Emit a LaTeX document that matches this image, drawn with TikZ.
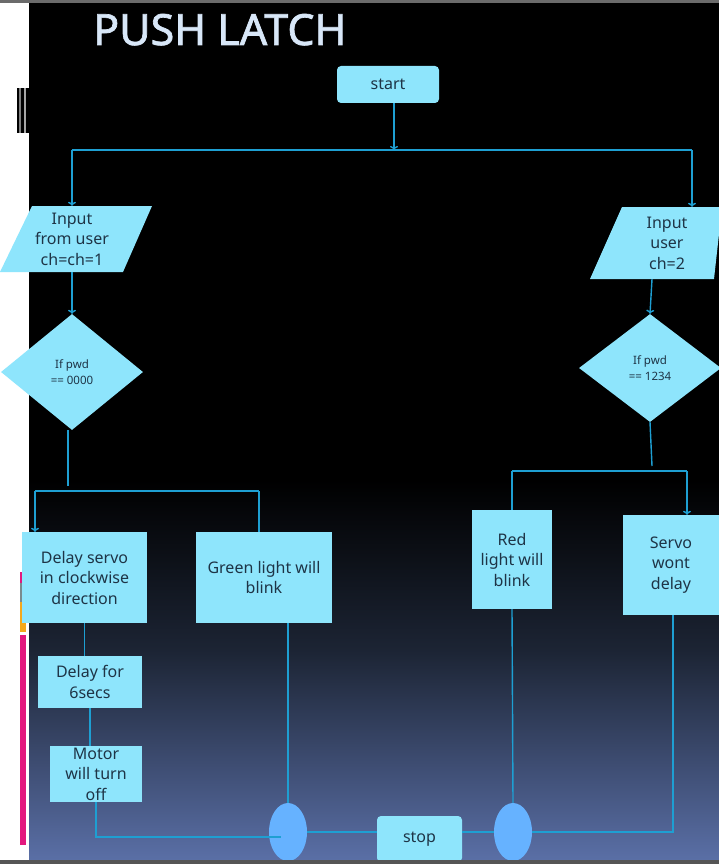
\documentclass[tikz,border=0pt]{standalone}
\usepackage{fontspec}
\setmainfont{Noto Sans}
\newfontfamily\titlefont[FakeBold=1.6]{Noto Sans}
\usetikzlibrary{arrows.meta,shapes.geometric}
\definecolor{boxc}{HTML}{8EE5FC}
\definecolor{ellc}{HTML}{66B2FF}
\definecolor{linec}{HTML}{1E9FD2}
\definecolor{txtc}{HTML}{1E3446}
\definecolor{titlec}{HTML}{D8E7F8}
\definecolor{bottomc}{HTML}{5A6FA6}
\definecolor{midc}{HTML}{1C2434}
\definecolor{topbar}{HTML}{6B6B6B}
\definecolor{botbar}{HTML}{555555}
\definecolor{pinkc}{HTML}{E3187E}
\definecolor{grayc}{HTML}{7A8A8E}
\definecolor{yellc}{HTML}{F4A81C}
\begin{document}
\begin{tikzpicture}[x=1pt,y=-1pt,
  box/.style={fill=boxc, draw=none, text=txtc, align=center, inner sep=0pt,
    font=\fontsize{16}{20.5}\selectfont},
  rbox/.style={box, rounded corners=4pt},
  txt/.style={text=txtc, align=center, inner sep=0pt, font=\fontsize{16}{20.5}\selectfont},
  dia/.style={shape=diamond, fill=boxc, draw=none, text=txtc, align=center, inner sep=0pt,
    font=\fontsize{11.5}{16.5}\selectfont},
  ell/.style={shape=ellipse, fill=ellc, draw=none, inner sep=0pt, minimum width=38pt, minimum height=58pt},
  conn/.style={draw=linec, line width=1.4pt},
  arr/.style={conn, -{To[length=4pt,width=8pt]}}]
\useasboundingbox (0,0) rectangle (719,864);
% background
\fill[white] (0,0) rectangle (719,864);
\fill[black] (29,3) rectangle (719,480);
\shade[top color=black, bottom color=midc] (29,480) rectangle (719,650);
\shade[top color=midc, bottom color=bottomc] (29,650) rectangle (719,860);
\fill[topbar] (0,0) rectangle (719,3);
% left decorations
\fill[black] (17,88) rectangle (19,133);
\fill[gray] (19,88) rectangle (21,133);
\fill[black] (21,88) rectangle (24,133);
\fill[gray!70] (24,88) rectangle (26,133);
\fill[black] (26,88) rectangle (29,133);
\fill[pinkc] (20,572) rectangle (26,583);
\fill[grayc] (20,583) rectangle (26,602);
\fill[yellc] (20,602) rectangle (26,632);
\fill[pinkc] (20,635) rectangle (26,845);
% title
\node[anchor=base west, text=titlec, inner sep=0pt, font=\titlefont\fontsize{43}{50}\selectfont] (title) at (93,45) {PUSH LATCH};
% start
\node[rbox, minimum width=102pt, minimum height=37pt] (start) at (388,84.5) {start};
% inputs
\fill[boxc] (32,206) -- (152,206) -- (123,272) -- (0,272) -- cycle;
\node[txt, minimum width=90pt, minimum height=66pt] (in1) at (72,239) {Input\\from user\\ch=ch=1};
\fill[boxc] (622,207) -- (722,207) -- (714,279) -- (590,279) -- cycle;
\node[txt, minimum width=80pt, minimum height=72pt] (in2) at (652,243) {\hspace*{30pt}Input\\\hspace*{30pt}user\\\hspace*{30pt}ch=2};
% diamonds
\node[dia, minimum width=142pt, minimum height=116pt] (d1) at (72,372) {If pwd\\== 0000};
\node[dia, minimum width=142pt, minimum height=108pt] (d2) at (650,368) {If pwd\\== 1234};
% boxes
\node[box, minimum width=125pt, minimum height=91pt] (ds) at (84.5,577.5) {Delay servo\\in clockwise\\direction};
\node[box, minimum width=136pt, minimum height=91pt] (gl) at (264,577.5) {Green light will\\blink};
\node[box, minimum width=80pt, minimum height=99pt] (rl) at (512,559.5) {Red\\light will\\blink};
\node[box, minimum width=96pt, minimum height=100pt] (sw) at (671,565) {Servo\\wont\\delay};
\node[box, minimum width=104pt, minimum height=52pt] (d6) at (90,682) {Delay for\\6secs};
\node[box, minimum width=92pt, minimum height=56pt] (mo) at (96,774) {};
\node[txt] (motxt) at (96,774) {Motor\\will turn\\off};
% ellipses and stop
\node[ell] (e1) at (288,832) {};
\node[ell] (e2) at (513,832) {};
\node[rbox, minimum width=85pt, minimum height=46pt] (stop) at (419.5,839) {stop};
% connectors
\coordinate (jl) at (72,150);
\coordinate (jr) at (692,150);
\coordinate (jt) at (394,150);
\draw[arr] (start.south -| jt) -- (jt);
\draw[conn] (jl) -- (jr);
\draw[arr] (jl) -- (jl |- in1.north);
\draw[arr] (jr) -- (jr |- in2.north);
\draw[arr] (in1.south) -- (d1.north);
\draw[arr] (in2.south) -- (d2.north);
% left split
\coordinate (ll) at (35,491);
\coordinate (lr) at (259,491);
\coordinate (lstub) at (68,486);
\draw[conn] (d1.south -| lstub) -- (lstub);
\draw[conn] (ll) -- (lr);
\draw[arr] (ll) -- (ll |- ds.north);
\draw[conn] (lr) -- (lr |- gl.north);
% right split
\coordinate (rsl) at (512,471);
\coordinate (rsr) at (687,471);
\coordinate (rstub) at (652,466);
\draw[conn] (d2.south) -- (rstub);
\draw[conn] (rsl) -- (rsr);
\draw[conn] (rsl) -- (rsl |- rl.north);
\draw[arr] (rsr) -- (rsr |- sw.north);
% left column
\draw[conn] (ds.south) -- (ds.south |- d6.north);
\draw[conn] (d6.south) -- (d6.south |- mo.north);
\draw[conn] (mo.south) |- ([xshift=-7pt,yshift=-5pt]e1.center);
\draw[conn] (gl.south -| e1.north) -- (e1.north);
\draw[conn] (e1.east) -- (stop.west |- e1.east);
\draw[conn] (stop.east |- e2.west) -- (e2.west);
\draw[conn] (rl.south) -- (e2.north);
\draw[conn] (e2.east) -| ([xshift=2pt]sw.south);
% bottom bar
\fill[botbar] (0,860) rectangle (719,864);
\end{tikzpicture}
\end{document}
